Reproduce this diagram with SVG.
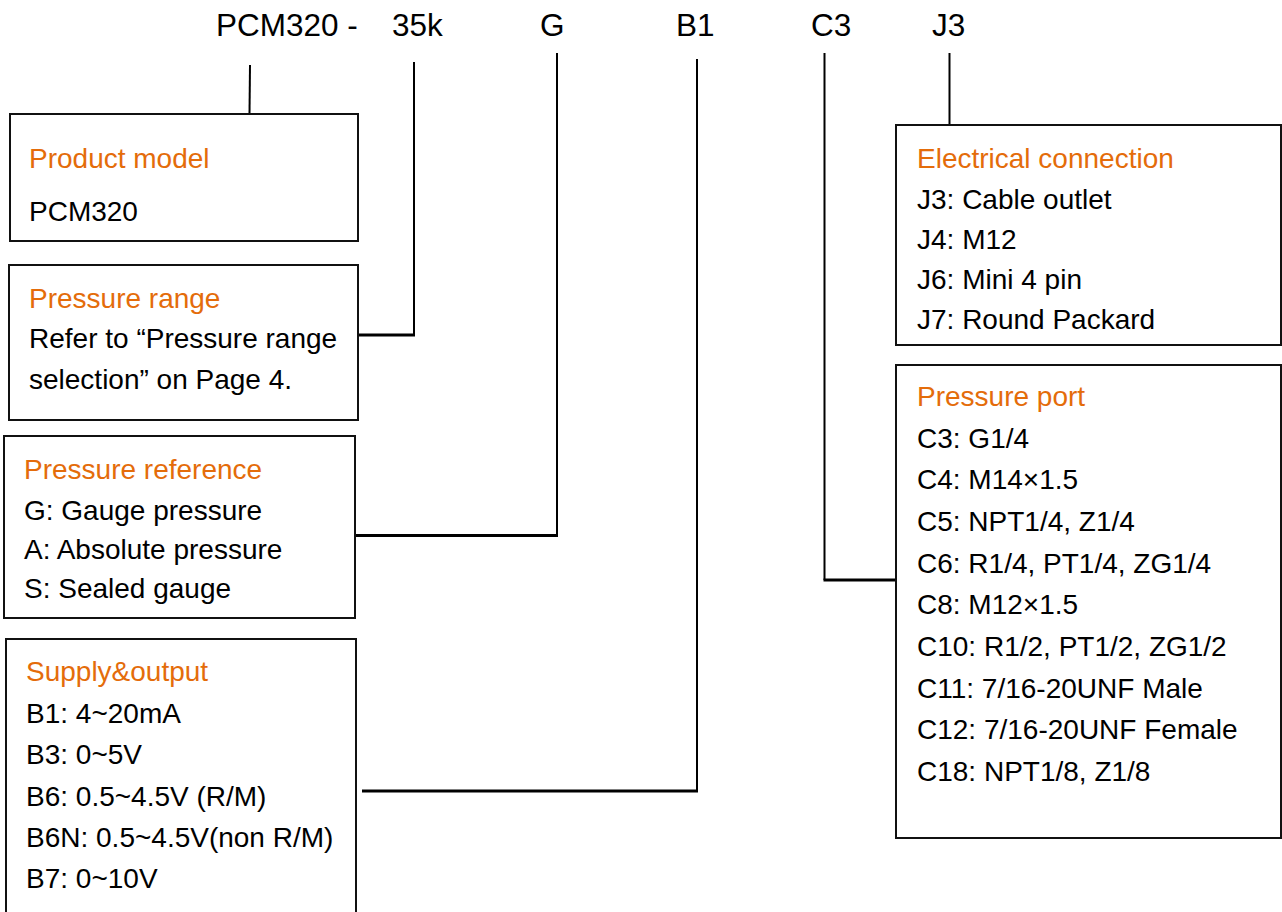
<svg xmlns="http://www.w3.org/2000/svg" width="1282" height="912" viewBox="0 0 1282 912">
<style>
text{font-family:"Liberation Sans",Arial,sans-serif;fill:#000}
.top{font-size:31.5px}
.t{font-size:28px}
.h{fill:#E46C0A}
.box{fill:#fff;stroke:#111;stroke-width:2}
.v{stroke:#000;stroke-width:2;fill:none}
.hz{stroke:#000;stroke-width:3;fill:none}
</style>
<rect width="1282" height="912" fill="#fff"/>
<g id="header">
<text class="top" x="216" y="36">PCM320 -</text>
<text class="top" x="392" y="36">35k</text>
<text class="top" x="540" y="36">G</text>
<text class="top" x="676" y="36">B1</text>
<text class="top" x="811" y="36">C3</text>
<text class="top" x="932" y="36">J3</text>
</g>
<g id="connectors">
<path class="v" d="M250 65 L249.5 114"/>
<path class="v" d="M414 62 V335"/>
<path class="hz" d="M358 335 H415"/>
<path class="v" d="M557 53 V536"/>
<path class="hz" d="M356 535.5 H558"/>
<path class="v" d="M697 59 V791"/>
<path class="hz" d="M362 791 H698"/>
<path class="v" d="M824.5 53 V580"/>
<path class="hz" d="M823.5 580 H896"/>
<path class="v" d="M949.5 53 V125"/>
</g>
<g id="product-model">
<rect class="box" x="10" y="114" width="348" height="127"/>
<text class="t h" x="29" y="168">Product model</text>
<text class="t" x="29" y="221">PCM320</text>
</g>
<g id="pressure-range">
<rect class="box" x="9" y="265" width="349" height="155"/>
<text class="t h" x="29" y="308">Pressure range</text>
<text class="t" x="29" y="348">Refer to “Pressure range</text>
<text class="t" x="29" y="389">selection” on Page 4.</text>
</g>
<g id="pressure-reference">
<rect class="box" x="4" y="436" width="351" height="182"/>
<text class="t h" x="24" y="479">Pressure reference</text>
<text class="t" x="24" y="520">G: Gauge pressure</text>
<text class="t" x="24" y="559">A: Absolute pressure</text>
<text class="t" x="24" y="598">S: Sealed gauge</text>
</g>
<g id="supply-output">
<rect class="box" x="6" y="639" width="350" height="290"/>
<text class="t h" x="26" y="681">Supply&amp;output</text>
<text class="t" x="26" y="723">B1: 4~20mA</text>
<text class="t" x="26" y="764">B3: 0~5V</text>
<text class="t" x="26" y="806">B6: 0.5~4.5V (R/M)</text>
<text class="t" x="26" y="847">B6N: 0.5~4.5V(non R/M)</text>
<text class="t" x="26" y="888">B7: 0~10V</text>
</g>
<g id="electrical-connection">
<rect class="box" x="896" y="125" width="385" height="220"/>
<text class="t h" x="917" y="168">Electrical connection</text>
<text class="t" x="917" y="209">J3: Cable outlet</text>
<text class="t" x="917" y="249">J4: M12</text>
<text class="t" x="917" y="289">J6: Mini 4 pin</text>
<text class="t" x="917" y="329">J7: Round Packard</text>
</g>
<g id="pressure-port">
<rect class="box" x="896" y="365" width="385" height="473"/>
<text class="t h" x="917" y="406">Pressure port</text>
<text class="t" x="917" y="448">C3: G1/4</text>
<text class="t" x="917" y="489">C4: M14×1.5</text>
<text class="t" x="917" y="531">C5: NPT1/4, Z1/4</text>
<text class="t" x="917" y="573">C6: R1/4, PT1/4, ZG1/4</text>
<text class="t" x="917" y="614">C8: M12×1.5</text>
<text class="t" x="917" y="656">C10: R1/2, PT1/2, ZG1/2</text>
<text class="t" x="917" y="698">C11: 7/16-20UNF Male</text>
<text class="t" x="917" y="739">C12: 7/16-20UNF Female</text>
<text class="t" x="917" y="781">C18: NPT1/8, Z1/8</text>
</g>
</svg>
